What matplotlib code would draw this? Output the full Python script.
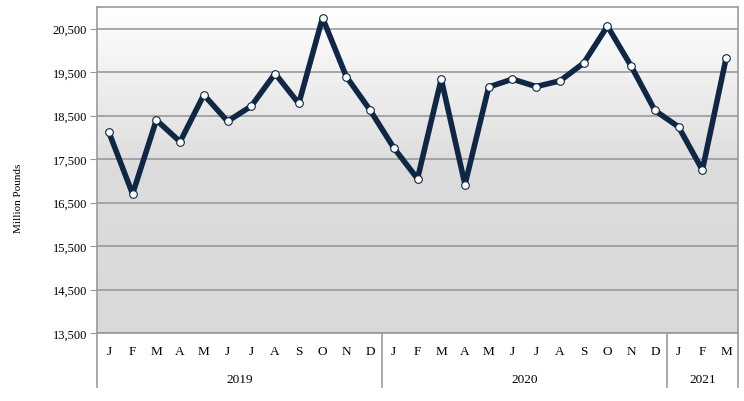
import numpy as np
import matplotlib.pyplot as plt
from matplotlib.colors import LinearSegmentedColormap

plt.rcParams['font.family'] = ['Liberation Serif', 'DejaVu Serif']

months = ["J", "F", "M", "A", "M", "J", "J", "A", "S", "O", "N", "D",
          "J", "F", "M", "A", "M", "J", "J", "A", "S", "O", "N", "D",
          "J", "F", "M"]
years = ["2019", "2020", "2021"]
year_len = [12, 12, 3]
values = [18120, 16700, 18400, 17900, 18980, 18370, 18720, 19470, 18780, 20750, 19400, 18630,
          17760, 17050, 19340, 16915, 19160, 19340, 19170, 19300, 19710, 20560, 19640, 18620,
          18240, 17250, 19825]
yticks = [13500, 14500, 15500, 16500, 17500, 18500, 19500, 20500]

fig = plt.figure(figsize=(7.44, 4.02), dpi=100)
ax = fig.add_axes([97/744, 68/402, 641/744, 326/402])

n = len(values)
x = np.arange(n)
ax.set_xlim(-0.5, n - 0.5)
ax.set_ylim(13500, 21000)

# gradient background
cmap = LinearSegmentedColormap.from_list("bg", [(0, "#d9d9d9"), (0.5, "#dcdcdc"), (1, "#ffffff")])
grad = np.linspace(0, 1, 256).reshape(-1, 1)
ax.imshow(grad, aspect="auto", cmap=cmap, origin="lower",
          extent=(-0.5, n - 0.5, 13500, 21000), zorder=0)

for t in yticks:
    ax.axhline(t, color="#9a9a9a", lw=1.2, zorder=1)

ax.plot(x, values, color="#0f2744", lw=4, solid_joinstyle="round", zorder=3)
ax.plot(x, values, ls="none", marker="o", ms=5.5, mfc="white", mec="#0f2744", mew=0.8, zorder=4)

ax.set_yticks(yticks)
ax.set_yticklabels([f"{t:,}" for t in yticks], fontsize=9)
ax.tick_params(axis="y", length=5, color="#9a9a9a", pad=2)
ax.set_xticks([])

for s in ax.spines.values():
    s.set_color("#9a9a9a")
    s.set_linewidth(1.2)

ax.set_ylabel("Million Pounds", fontsize=8)
ax.yaxis.set_label_coords(-0.115, 0.415)

# two-level category axis
for i, m in enumerate(months):
    ax.text(i, -0.055, m, transform=ax.get_xaxis_transform(), ha="center", va="center",
            fontsize=9.5, clip_on=False)
start = 0
bounds = [0]
for y, L in zip(years, year_len):
    ax.text(start + (L - 1) / 2, -0.14, y, transform=ax.get_xaxis_transform(),
            ha="center", va="center", fontsize=9.5, clip_on=False)
    start += L
    bounds.append(start)
for b in bounds:
    ax.plot([b - 0.5, b - 0.5], [0, -0.165], transform=ax.get_xaxis_transform(),
            color="#9a9a9a", lw=1.2, clip_on=False)

fig.savefig("out.png", dpi=100)
